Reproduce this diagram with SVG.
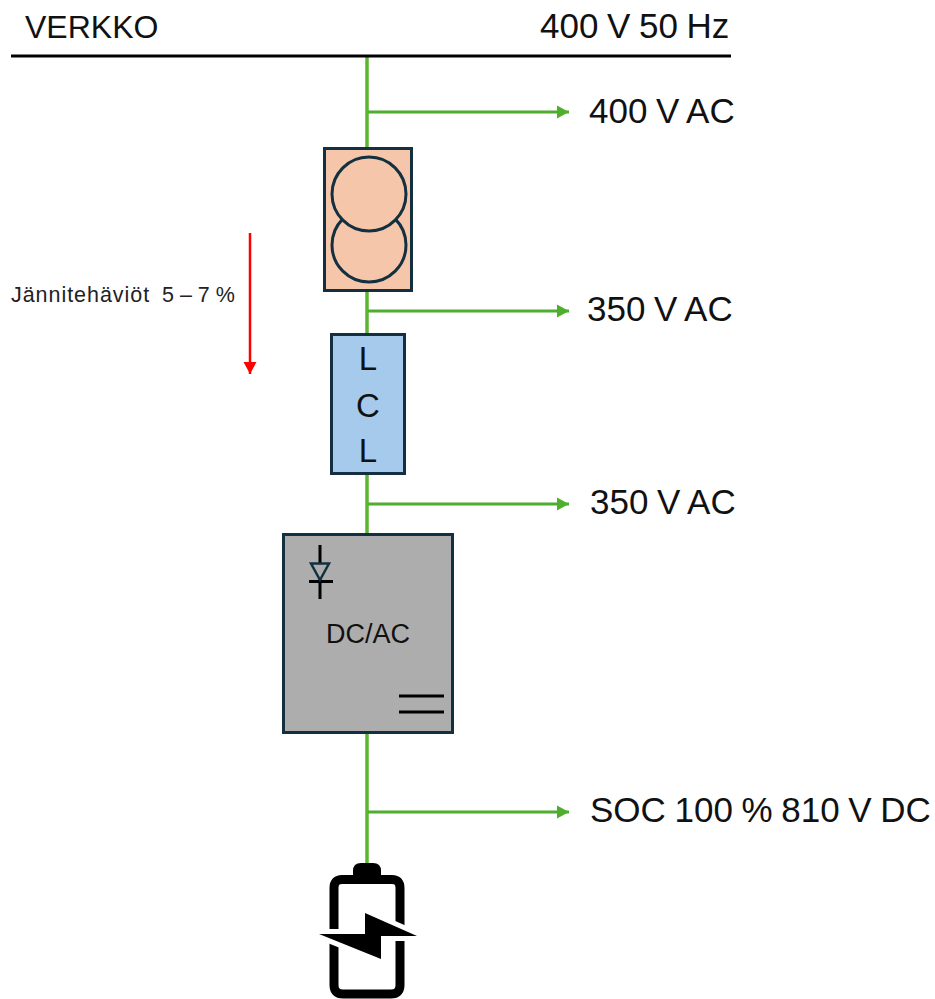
<svg xmlns="http://www.w3.org/2000/svg" width="935" height="999" viewBox="0 0 935 999">
<style>
text{font-family:"Liberation Sans",Arial,sans-serif;fill:#111}
.big{font-size:35px;word-spacing:-1.100px}
.lcl{font-size:33px;text-anchor:middle}
.small{font-size:21.500px;fill:#222}
.box{stroke:#12303f;stroke-width:3}
.g{stroke:#5cb531;stroke-width:3.5;fill:none}
.b{stroke:#4fae2e;stroke-width:3;fill:none}
.k{stroke:#000;stroke-linecap:butt;fill:none}
</style>
<defs>
<marker id="ga" markerUnits="userSpaceOnUse" markerWidth="13" markerHeight="14" refX="12" refY="7" orient="auto"><path d="M0 0.500L12 7L0 13.500Z" fill="#4fae2e"/></marker>
<marker id="ra" markerUnits="userSpaceOnUse" markerWidth="13" markerHeight="14" refX="12" refY="6.500" orient="auto"><path d="M0 0L12 6.500L0 13Z" fill="#f00"/></marker>
</defs>
<g id="connectors">
<path class="g" d="M367 56V148M367 291V334M367 474V534M367 733V866"/>
<path class="b" marker-end="url(#ga)" d="M368 112H569"/>
<path class="b" marker-end="url(#ga)" d="M368 311H569"/>
<path class="b" marker-end="url(#ga)" d="M368 504H569"/>
<path class="b" marker-end="url(#ga)" d="M368 812H569"/>
<path stroke="#f00" stroke-width="2.500" fill="none" marker-end="url(#ra)" d="M250 233V374"/>
</g>
<g id="grid">
<path stroke="#000" stroke-width="3" d="M11 56H731"/>
<text x="25" y="38" font-size="32">VERKKO</text>
<text x="540" y="38" class="big">400 V 50 Hz</text>
</g>
<g id="transformer">
<rect class="box" x="324.500" y="148.500" width="87" height="142" fill="#f6c6ab"/>
<circle cx="369" cy="245" r="37" fill="#f6c6ab" stroke="#12303f" stroke-width="3"/>
<circle cx="369" cy="194" r="37" fill="#f6c6ab" stroke="#12303f" stroke-width="3"/>
</g>
<g id="lcl">
<rect class="box" x="331.500" y="334.500" width="73" height="139" fill="#a6caec"/>
<text x="368" y="370" class="lcl">L</text>
<text x="368" y="417" class="lcl">C</text>
<text x="368" y="462" class="lcl">L</text>
</g>
<g id="inverter">
<rect class="box" x="283.500" y="534.500" width="169" height="198" fill="#adadad"/>
<path class="k" stroke-width="3" d="M320 545V599M309 581.500H333"/>
<path d="M311 563.500H329L320 580Z" fill="#adadad" stroke="#12303f" stroke-width="2.500"/>
<path class="k" stroke-width="3" d="M399 696H444M399 712H444"/>
<text x="368" y="643" font-size="27" text-anchor="middle">DC/AC</text>
</g>
<g id="battery">
<path fill="#000" d="M353 876V871Q353 863 361 863H373Q381 863 381 871V876Z"/>
<path fill="none" stroke="#000" stroke-width="9" d="M334 935V888Q334 879.500 342 879.500H392Q400 879.500 400 888V935"/>
<path fill="none" stroke="#000" stroke-width="9" d="M334 935V985Q334 994 343 994H391Q400 994 400 985V935"/>
<path fill="#000" stroke="#fff" stroke-width="10" stroke-linejoin="round" paint-order="stroke" d="M319 934L365 934L365 913L417 936L381 936L381 959Z"/>
</g>
<g id="labels">
<text x="589" y="123" class="big">400 V AC</text>
<text x="587" y="321" class="big">350 V AC</text>
<text x="590" y="514" class="big">350 V AC</text>
<text x="590" y="822" class="big">SOC 100 % 810 V DC</text>
<text x="11" y="302" class="small" style="letter-spacing:.95px">Jännitehäviöt</text>
<text x="162" y="302" class="small">5 – 7 %</text>
</g>
</svg>
